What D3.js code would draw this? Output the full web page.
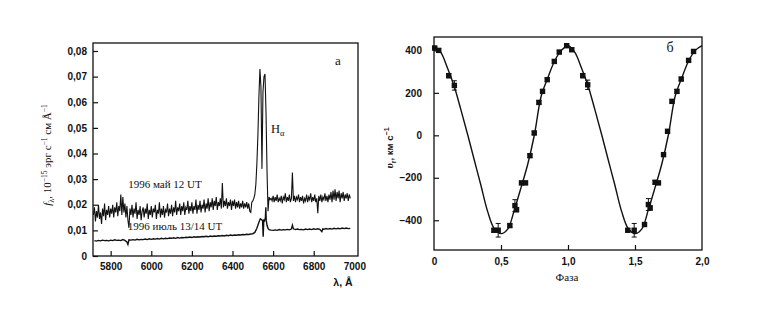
<!DOCTYPE html>
<html lang="ru">
<head>
<meta charset="utf-8">
<title>Спектр и кривая лучевых скоростей</title>
<style>
  body { margin: 0; background: #fff; }
  svg { display: block; }
  .tick text { font-family: "Liberation Sans", Arial, sans-serif; font-weight: bold; font-size: 10px; fill: #111; }
  .tick line { stroke: #111; stroke-width: 1.2; }
  .domain { display: none; }
</style>
</head>
<body>
<svg id="chart" width="763" height="311"></svg>
<script src="https://d3js.org/d3.v7.min.js"></script>
<script>
// ---- panel a: spectra, [wavelength A, flux 1e-15 erg/s/cm2/A] ----
var spectrumMay = [
  [5715,.0160],[5720,.0190],[5725,.0135],[5730,.0175],[5735,.0150],[5740,.0200],[5745,.0145],[5750,.0170],[5755,.0125],[5760,.0185],
  [5765,.0155],[5770,.0205],[5775,.0140],[5780,.0180],[5785,.0160],[5790,.0195],[5795,.0150],[5800,.0185],[5805,.0165],[5810,.0200],
  [5815,.0150],[5820,.0190],[5825,.0170],[5830,.0210],[5835,.0155],[5840,.0195],[5845,.0175],[5850,.0240],[5855,.0160],[5860,.0230],
  [5865,.0170],[5870,.0205],[5875,.0150],[5880,.0195],[5885,.0140],[5890,.0110],[5895,.0185],[5900,.0160],[5905,.0200],[5910,.0150],
  [5915,.0185],[5920,.0165],[5925,.0210],[5930,.0145],[5935,.0180],[5940,.0160],[5945,.0195],[5950,.0140],[5955,.0175],[5960,.0190],
  [5965,.0150],[5970,.0185],[5975,.0165],[5980,.0205],[5985,.0145],[5990,.0180],[5995,.0160],[6000,.0195],[6005,.0150],[6010,.0185],
  [6015,.0170],[6020,.0200],[6025,.0145],[6030,.0180],[6035,.0165],[6040,.0210],[6045,.0150],[6050,.0185],[6055,.0160],[6060,.0195],
  [6065,.0150],[6070,.0180],[6075,.0170],[6080,.0205],[6085,.0155],[6090,.0185],[6095,.0165],[6100,.0200],[6105,.0155],[6110,.0190],
  [6115,.0170],[6120,.0215],[6125,.0160],[6130,.0190],[6135,.0175],[6140,.0205],[6145,.0160],[6150,.0195],[6155,.0175],[6160,.0210],
  [6165,.0160],[6170,.0190],[6175,.0180],[6180,.0215],[6185,.0165],[6190,.0195],[6195,.0175],[6200,.0210],[6205,.0165],[6210,.0195],
  [6215,.0180],[6220,.0220],[6225,.0165],[6230,.0200],[6235,.0180],[6240,.0215],[6245,.0170],[6250,.0200],[6255,.0185],[6260,.0220],
  [6265,.0170],[6270,.0205],[6275,.0185],[6280,.0225],[6285,.0175],[6290,.0210],[6295,.0190],[6300,.0225],[6305,.0180],[6310,.0215],
  [6315,.0195],[6320,.0230],[6325,.0180],[6330,.0210],[6335,.0195],[6340,.0225],[6345,.0185],[6350,.0285],[6355,.0190],[6360,.0215],
  [6365,.0195],[6370,.0225],[6375,.0185],[6380,.0210],[6385,.0195],[6390,.0220],[6395,.0180],[6400,.0215],[6405,.0195],[6410,.0220],
  [6415,.0185],[6420,.0210],[6425,.0190],[6430,.0215],[6435,.0185],[6440,.0205],[6445,.0190],[6450,.0215],[6455,.0185],[6460,.0205],
  [6465,.0190],[6470,.0210],[6475,.0185],[6480,.0205],[6485,.0175],[6490,.0170],[6495,.0210],[6500,.0215],[6505,.0225],[6510,.0240],
  [6515,.0280],[6520,.0360],[6525,.0470],[6530,.0620],[6535,.0730],[6540,.0660],[6545,.0340],[6550,.0640],[6555,.0700],[6560,.0710],
  [6565,.0560],[6570,.0330],[6575,.0175],[6580,.0230],[6585,.0220],[6590,.0225],[6595,.0215],[6600,.0235],[6605,.0210],[6610,.0230],
  [6615,.0215],[6620,.0240],[6625,.0210],[6630,.0225],[6635,.0215],[6640,.0235],[6645,.0205],[6650,.0230],[6655,.0220],[6660,.0245],
  [6665,.0210],[6670,.0230],[6675,.0215],[6680,.0240],[6685,.0210],[6690,.0225],[6695,.0326],[6700,.0215],[6705,.0235],[6710,.0210],
  [6715,.0230],[6720,.0220],[6725,.0240],[6730,.0210],[6735,.0230],[6740,.0215],[6745,.0235],[6750,.0205],[6755,.0225],[6760,.0215],
  [6765,.0240],[6770,.0210],[6775,.0230],[6780,.0220],[6785,.0245],[6790,.0210],[6795,.0230],[6800,.0215],[6805,.0240],[6810,.0210],
  [6815,.0225],[6820,.0167],[6825,.0235],[6830,.0215],[6835,.0240],[6840,.0210],[6845,.0230],[6850,.0220],[6855,.0245],[6860,.0215],
  [6865,.0235],[6870,.0210],[6875,.0240],[6880,.0220],[6885,.0250],[6890,.0210],[6895,.0255],[6900,.0220],[6905,.0260],[6910,.0215],
  [6915,.0250],[6920,.0225],[6925,.0255],[6930,.0210],[6935,.0245],[6940,.0225],[6945,.0250],[6950,.0215],[6955,.0240],[6960,.0225],
  [6965,.0245],[6970,.0215],[6975,.0240],[6980,.0225]
];

var spectrumJuly = [
  [5720,.0060],[5730,.0058],[5740,.0061],[5750,.0059],[5760,.0062],[5770,.0060],[5780,.0061],[5790,.0059],[5800,.0062],[5810,.0060],
  [5820,.0063],[5830,.0061],[5840,.0062],[5850,.0060],[5860,.0064],[5870,.0061],[5880,.0055],[5885,.0045],[5890,.0063],[5900,.0062],
  [5910,.0064],[5920,.0062],[5930,.0065],[5940,.0063],[5950,.0065],[5960,.0064],[5970,.0066],[5980,.0064],[5990,.0067],[6000,.0065],
  [6010,.0067],[6020,.0066],[6030,.0068],[6040,.0066],[6050,.0069],[6060,.0067],[6070,.0069],[6080,.0068],[6090,.0070],[6100,.0069],
  [6110,.0071],[6120,.0069],[6130,.0072],[6140,.0070],[6150,.0072],[6160,.0071],[6170,.0073],[6180,.0072],[6190,.0074],[6200,.0072],
  [6210,.0075],[6220,.0073],[6230,.0075],[6240,.0074],[6250,.0076],[6260,.0075],[6270,.0077],[6280,.0075],[6290,.0078],[6300,.0076],
  [6310,.0078],[6320,.0077],[6330,.0079],[6340,.0078],[6350,.0080],[6360,.0078],[6370,.0081],[6380,.0079],[6390,.0082],[6400,.0080],
  [6410,.0082],[6420,.0081],[6430,.0083],[6440,.0082],[6450,.0084],[6460,.0083],[6470,.0085],[6480,.0084],[6490,.0086],[6500,.0087],
  [6510,.0092],[6520,.0108],[6530,.0132],[6537,.0145],[6543,.0142],[6548,.0138],[6551,.0075],[6554,.0140],[6558,.0138],[6562,.0150],
  [6564,.0190],[6566,.0140],[6570,.0120],[6575,.0108],[6580,.0103],[6590,.0101],[6600,.0100],[6610,.0102],[6620,.0100],[6630,.0103],
  [6640,.0101],[6650,.0103],[6660,.0102],[6670,.0104],[6680,.0102],[6690,.0105],[6695,.0120],[6700,.0106],[6710,.0103],[6720,.0105],
  [6730,.0103],[6740,.0104],[6750,.0102],[6760,.0105],[6770,.0103],[6780,.0105],[6790,.0103],[6800,.0106],[6810,.0104],[6820,.0106],
  [6830,.0104],[6840,.0095],[6845,.0106],[6850,.0104],[6860,.0107],[6870,.0105],[6880,.0107],[6890,.0105],[6900,.0108],[6910,.0106],
  [6920,.0108],[6930,.0106],[6940,.0109],[6950,.0107],[6960,.0109],[6970,.0107],[6980,.0108]
];

var fluxTicks = [0, 0.01, 0.02, 0.03, 0.04, 0.05, 0.06, 0.07, 0.08];
var lambdaTicks = [5800, 6000, 6200, 6400, 6600, 6800, 7000];

// ---- panel b: radial velocities [phase, v km/s, error] ----
var rvPoints = [
  [0.005,411,8],[0.035,400,8],[0.11,281,10],[0.152,235,22],[0.447,-447,8],[0.479,-447,32],
  [0.566,-425,8],[0.604,-331,28],[0.616,-350,10],[0.653,-224,8],[0.683,-224,8],[0.716,-96,8],
  [0.748,11,8],[0.783,155,8],[0.81,207,8],[0.845,262,8],[0.898,348,8],[0.935,392,8],[0.99,422,8],
  [1.028,403,8],[1.11,281,10],[1.147,238,22],[1.446,-447,8],[1.494,-447,32],[1.571,-420,8],
  [1.60,-326,28],[1.613,-342,10],[1.65,-221,8],[1.675,-224,8],[1.713,-91,8],[1.743,19,8],
  [1.776,160,8],[1.813,207,8],[1.845,265,8],[1.90,353,8],[1.937,395,8]
];
// fitted curve, one period
var fitCurve = [
  [0.00,422],[0.05,392],[0.10,318],[0.15,232],[0.20,122],[0.25,6],[0.30,-115],[0.35,-235],
  [0.40,-358],[0.45,-440],[0.50,-463],[0.55,-442],[0.60,-350],[0.65,-245],[0.70,-135],
  [0.75,5],[0.80,185],[0.85,272],[0.90,350],[0.95,400],[1.00,422]
];
var velTicks = [-400, -200, 0, 200, 400];
var phaseTicks = [0, 0.5, 1, 1.5, 2];

var INK = "#111";
var SERIF = "'Liberation Serif', 'Times New Roman', serif";
var SANS = "'Liberation Sans', Arial, sans-serif";

var svg = d3.select("#chart");

function label(x, y, txt, size, fam, opts) {
  opts = opts || {};
  return svg.append("text")
    .attr("x", x).attr("y", y)
    .attr("font-family", fam).attr("font-size", size)
    .attr("font-weight", opts.bold ? "bold" : "normal")
    .attr("text-anchor", opts.anchor || "middle")
    .attr("fill", INK)
    .text(txt);
}

// ================= panel a =================
var a = {left: 93, right: 358, top: 43, bottom: 256};
var xA = d3.scaleLinear().domain([5713, 7018]).range([a.left, a.right]);
var yA = d3.scaleLinear().domain([0, 0.08]).range([a.bottom, 51]);

svg.append("g")
  .attr("transform", `translate(${a.left},0)`)
  .call(d3.axisLeft(yA).tickValues(fluxTicks).tickSize(-5).tickPadding(6)
    .tickFormat(d => d === 0 ? "0" : d.toFixed(2).replace(".", ",")));

var gxA = svg.append("g")
  .attr("transform", `translate(0,${a.bottom})`)
  .call(d3.axisBottom(xA).tickValues(lambdaTicks).tickSize(-5).tickPadding(7).tickFormat(d3.format("d")));
gxA.selectAll(".tick").filter(d => d === 7000).select("line").remove();

var lineA = d3.line().x(d => xA(d[0])).y(d => yA(d[1]));
svg.append("path").attr("d", lineA(spectrumMay))
  .attr("fill", "none").attr("stroke", INK).attr("stroke-width", 1.1);
svg.append("path").attr("d", lineA(spectrumJuly))
  .attr("fill", "none").attr("stroke", INK).attr("stroke-width", 1.4);

svg.append("rect")
  .attr("x", a.left).attr("y", a.top)
  .attr("width", a.right - a.left).attr("height", a.bottom - a.top)
  .attr("fill", "none").attr("stroke", INK).attr("stroke-width", 1.3);

label(165, 188, "1996 май 12 UT", 11, SERIF);
label(175, 230, "1996 июль 13/14 UT", 11, SERIF);

var ha = label(271, 133, "", 12.5, SERIF, {anchor: "start"});
ha.append("tspan").text("H");
ha.append("tspan").attr("font-size", 8.5).attr("dy", 3).text("α");

label(338, 65, "а", 13, SERIF);

var yLabA = svg.append("text")
  .attr("font-family", SERIF).attr("font-size", 11).attr("fill", INK)
  .attr("text-anchor", "middle")
  .attr("transform", "translate(51,155) rotate(-90)");
yLabA.append("tspan").attr("font-style", "italic").text("f");
yLabA.append("tspan").attr("font-size", 8).attr("dy", 3).text("λ");
yLabA.append("tspan").attr("dy", -3).text(", 10");
yLabA.append("tspan").attr("font-size", 7.5).attr("dy", -4).text("−15");
yLabA.append("tspan").attr("dy", 4).text(" эрг с");
yLabA.append("tspan").attr("font-size", 7.5).attr("dy", -4).text("−1");
yLabA.append("tspan").attr("dy", 4).text(" см Å");
yLabA.append("tspan").attr("font-size", 7.5).attr("dy", -4).text("−1");

label(343, 286, "λ, Å", 10.5, SANS, {bold: true});

// ================= panel b =================
var b = {left: 434, right: 702, top: 37, bottom: 250};
var xB = d3.scaleLinear().domain([0, 2]).range([b.left, b.right]);
var yB = d3.scaleLinear().domain([-540, 463]).range([b.bottom, b.top]);

svg.append("g")
  .attr("transform", `translate(${b.left},0)`)
  .call(d3.axisLeft(yB).tickValues(velTicks).tickSize(-5).tickPadding(12)
    .tickFormat(d => d < 0 ? "−" + Math.abs(d) : String(d)));

var gxB = svg.append("g")
  .attr("transform", `translate(0,${b.bottom})`)
  .call(d3.axisBottom(xB).tickValues(phaseTicks).tickSize(-5).tickPadding(8)
    .tickFormat(d => d === 0 ? "0" : d.toFixed(1).replace(".", ",")));
gxB.selectAll(".tick").filter(d => d === 0 || d === 2).select("line").remove();

var fitTwo = fitCurve.concat(fitCurve.slice(1).map(d => [d[0] + 1, d[1]]));
var lineB = d3.line().x(d => xB(d[0])).y(d => yB(d[1])).curve(d3.curveCatmullRom.alpha(0.5));
svg.append("path").attr("d", lineB(fitTwo))
  .attr("fill", "none").attr("stroke", INK).attr("stroke-width", 1.4);

var pts = svg.append("g").selectAll("g").data(rvPoints).join("g");
pts.append("line")
  .attr("x1", d => xB(d[0])).attr("x2", d => xB(d[0]))
  .attr("y1", d => yB(d[1] - d[2])).attr("y2", d => yB(d[1] + d[2]))
  .attr("stroke", INK).attr("stroke-width", 1);
pts.selectAll(".cap").data(d => [[d[0], d[1] - d[2]], [d[0], d[1] + d[2]]]).join("line")
  .attr("x1", d => xB(d[0]) - 2.5).attr("x2", d => xB(d[0]) + 2.5)
  .attr("y1", d => yB(d[1])).attr("y2", d => yB(d[1]))
  .attr("stroke", INK).attr("stroke-width", 1);
pts.append("rect")
  .attr("x", d => xB(d[0]) - 2.7).attr("y", d => yB(d[1]) - 2.7)
  .attr("width", 5.4).attr("height", 5.4).attr("fill", INK);

svg.append("rect")
  .attr("x", b.left).attr("y", b.top)
  .attr("width", b.right - b.left).attr("height", b.bottom - b.top)
  .attr("fill", "none").attr("stroke", INK).attr("stroke-width", 1.3);

label(670, 52, "б", 14, SERIF);
label(567, 281, "Фаза", 11, SERIF);

var yLabB = svg.append("text")
  .attr("font-family", SANS).attr("font-weight", "bold").attr("font-size", 9.5).attr("fill", INK)
  .attr("text-anchor", "middle")
  .attr("transform", "translate(393,148) rotate(-90)");
yLabB.append("tspan").attr("font-style", "italic").attr("font-family", SERIF).attr("font-size", 11).text("υ");
yLabB.append("tspan").attr("font-size", 7).attr("dy", 2.5).text("r");
yLabB.append("tspan").attr("dy", -2.5).text(", км с");
yLabB.append("tspan").attr("font-size", 7).attr("dy", -4).text("−1");
</script>
</body>
</html>
